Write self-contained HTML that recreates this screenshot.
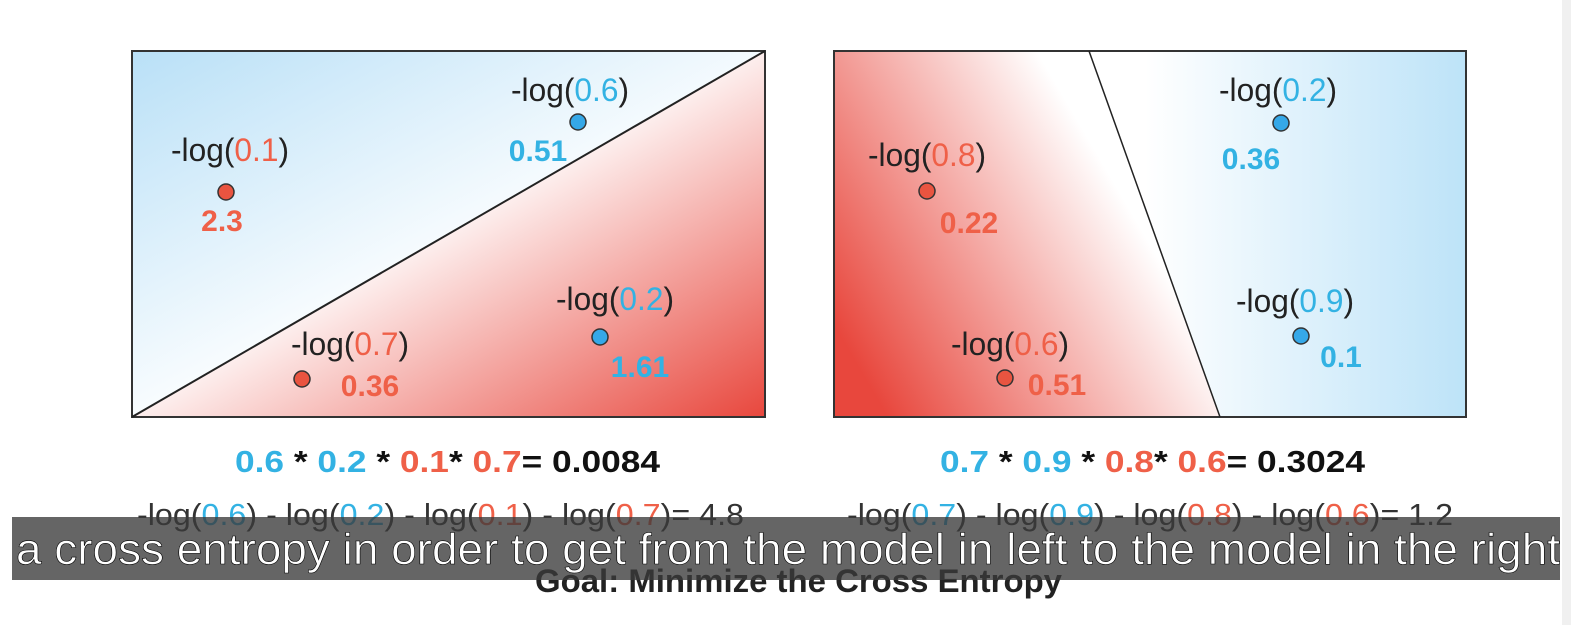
<!DOCTYPE html>
<html><head><meta charset="utf-8"><style>
html,body{margin:0;padding:0;background:#fff;width:1571px;height:625px;overflow:hidden}
svg{display:block;font-family:"Liberation Sans","DejaVu Sans",sans-serif}
</style></head><body>
<svg id="c" width="1571" height="625" viewBox="0 0 1571 625">
<defs>
<linearGradient id="lb" x1="0" y1="0" x2="0.55" y2="0.6"><stop offset="0" stop-color="#b9e0f7"/><stop offset="1" stop-color="#ffffff"/></linearGradient>
<linearGradient id="lr" x1="1" y1="1" x2="0.45" y2="0.45"><stop offset="0" stop-color="#e8473d"/><stop offset="1" stop-color="#ffffff"/></linearGradient>
<linearGradient id="rr" x1="0" y1="0.75" x2="0.72" y2="0.35"><stop offset="0" stop-color="#e8473d"/><stop offset="1" stop-color="#ffffff"/></linearGradient>
<linearGradient id="rb" x1="0" y1="0" x2="1" y2="0"><stop offset="0.15" stop-color="#ffffff"/><stop offset="1" stop-color="#bde3f8"/></linearGradient>
</defs>
<g>
<polygon points="132,51 765,51 132,417" fill="url(#lb)"/>
<polygon points="765,51 765,417 132,417" fill="url(#lr)"/>
<rect x="132" y="51" width="633" height="366" fill="none" stroke="#333" stroke-width="2"/>
<line x1="132" y1="417" x2="765" y2="51" stroke="#222" stroke-width="2"/>
</g>
<g>
<polygon points="834,51 1089,51 1220,417 834,417" fill="url(#rr)"/>
<polygon points="1089,51 1466,51 1466,417 1220,417" fill="url(#rb)"/>
<rect x="834" y="51" width="632" height="366" fill="none" stroke="#333" stroke-width="2"/>
<line x1="1089" y1="51" x2="1220" y2="417" stroke="#222" stroke-width="1.5"/>
</g>
<g id="pts"></g>
<text x="235" y="472" font-size="31" font-weight="bold" textLength="425" lengthAdjust="spacingAndGlyphs"><tspan fill="#33b2e3">0.6</tspan><tspan fill="#111"> * </tspan><tspan fill="#33b2e3">0.2</tspan><tspan fill="#111"> * </tspan><tspan fill="#ef6048">0.1</tspan><tspan fill="#111">* </tspan><tspan fill="#ef6048">0.7</tspan><tspan fill="#111">= 0.0084</tspan></text>
<text x="940" y="472" font-size="31" font-weight="bold" textLength="425" lengthAdjust="spacingAndGlyphs"><tspan fill="#33b2e3">0.7</tspan><tspan fill="#111"> * </tspan><tspan fill="#33b2e3">0.9</tspan><tspan fill="#111"> * </tspan><tspan fill="#ef6048">0.8</tspan><tspan fill="#111">* </tspan><tspan fill="#ef6048">0.6</tspan><tspan fill="#111">= 0.3024</tspan></text>
<text x="137" y="525" font-size="31" fill="#333" textLength="607" lengthAdjust="spacingAndGlyphs">-log(<tspan fill="#33b2e3">0.6</tspan>) - log(<tspan fill="#33b2e3">0.2</tspan>) - log(<tspan fill="#ef6048">0.1</tspan>) - log(<tspan fill="#ef6048">0.7</tspan>)= 4.8</text>
<text x="847" y="525" font-size="31" fill="#333" textLength="606" lengthAdjust="spacingAndGlyphs">-log(<tspan fill="#33b2e3">0.7</tspan>) - log(<tspan fill="#33b2e3">0.9</tspan>) - log(<tspan fill="#ef6048">0.8</tspan>) - log(<tspan fill="#ef6048">0.6</tspan>)= 1.2</text>
<text x="535" y="592" font-size="32" font-weight="bold" fill="#222" textLength="527" lengthAdjust="spacingAndGlyphs">Goal: Minimize the Cross Entropy</text>
<rect x="12" y="517" width="1548" height="63" fill="#3a3a3a" fill-opacity="0.78"/>
<text x="16" y="564" font-size="44" fill="#fff" stroke="#000" stroke-width="0.6" textLength="1544" lengthAdjust="spacingAndGlyphs">a cross entropy in order to get from the model in left to the model in the right</text>
<rect x="1562" y="0" width="9" height="625" fill="#f0f0f0"/>
</svg>
<script>
const pointX=[226,578,302,600,927,1005,1281,1301];
const pointY=[192,122,379,337,191,378,123,336];
const pointColor=["red","blue","red","blue","red","red","blue","blue"];
const probLabels=["0.1","0.6","0.7","0.2","0.8","0.6","0.2","0.9"];
const lossValues=["2.3","0.51","0.36","1.61","0.22","0.51","0.36","0.1"];
const labelDX=[4,-8,48,15,0,5,-3,-6];
const labelDY=[-31,-21,-24,-27,-25,-23,-22,-24];
const valueDX=[-4,-40,68,40,42,52,-30,40];
const valueDY=[39,39,17,40,42,17,46,31];
const NS="http://www.w3.org/2000/svg";
const g=document.getElementById('pts');
const col={red:"#ef6048",blue:"#33b2e3"};
const dot={red:"#e95440",blue:"#35a8e8"};
for(let i=0;i<pointX.length;i++){
  const x=pointX[i],y=pointY[i];
  const c=document.createElementNS(NS,'circle');
  c.setAttribute('cx',x);c.setAttribute('cy',y);c.setAttribute('r',8);
  c.setAttribute('fill',dot[pointColor[i]]);c.setAttribute('stroke','#333');c.setAttribute('stroke-width','1.5');
  
  
  g.appendChild(c);
  const t=document.createElementNS(NS,'text');
  t.setAttribute('x',x+labelDX[i]-59);t.setAttribute('y',y+labelDY[i]);
  t.setAttribute('font-size','32');t.setAttribute('fill','#222');
  t.setAttribute('textLength','118');t.setAttribute('lengthAdjust','spacingAndGlyphs');
  t.innerHTML='-log(<tspan fill="'+col[pointColor[i]]+'">'+probLabels[i]+'</tspan>)';
  
  
  g.appendChild(t);
  const v=document.createElementNS(NS,'text');
  v.setAttribute('x',x+valueDX[i]);v.setAttribute('y',y+valueDY[i]);
  v.setAttribute('text-anchor','middle');v.setAttribute('font-size','30');v.setAttribute('font-weight','bold');
  v.setAttribute('fill',col[pointColor[i]]);
  v.textContent=lossValues[i];
  
  
  g.appendChild(v);
}
</script>
</body></html>
